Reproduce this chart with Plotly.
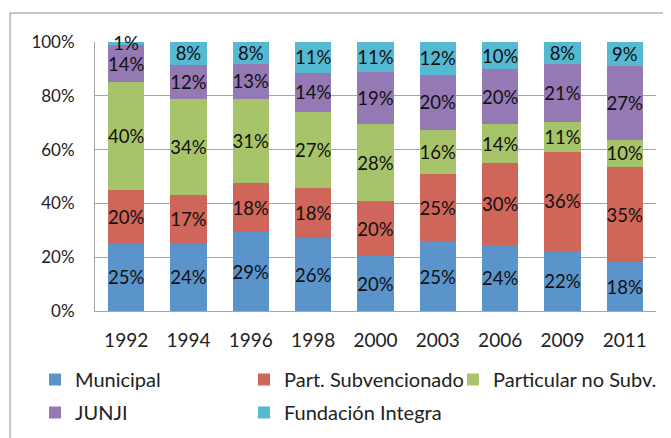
import plotly.graph_objects as go

years = ['1992', '1994', '1996', '1998', '2000', '2003', '2006', '2009', '2011']
municipal = [25, 24, 29, 26, 20, 25, 24, 22, 18]
part_subvencionado = [20, 17, 18, 18, 20, 25, 30, 36, 35]
particular_no_subv = [40, 34, 31, 27, 28, 16, 14, 11, 10]
junji = [14, 12, 13, 14, 19, 20, 20, 21, 27]
fundacion_integra = [1, 8, 8, 11, 11, 12, 10, 8, 9]
y_ticks = [0, 20, 40, 60, 80, 100]
y_tick_labels = ['0%', '20%', '40%', '60%', '80%', '100%']

# the page puts the figure 8px in from the window corner
OFF = 8
W, H = 671, 438
ML, MR, MT, MB = 87, 23, 34, 135
PW, PH = W - ML - MR, H - MT - MB


def px_x(px):
    return (px - OFF - ML) / PW


def px_y(py):
    return (H - MB - (py - OFF)) / PH


series = [
    ('Municipal', municipal, '#5b93cb', 'legend'),
    ('Part. Subvencionado', part_subvencionado, '#cf6659', 'legend2'),
    ('Particular no Subv.', particular_no_subv, '#a8c46a', 'legend3'),
    ('JUNJI', junji, '#9479b4', 'legend'),
    ('Fundación Integra', fundacion_integra, '#55b9d1', 'legend2'),
]

fig = go.Figure()
for name, vals, color, leg in series:
    fig.add_trace(go.Bar(
        x=years,
        y=vals,
        name=name,
        legend=leg,
        legendgroup=name,
        marker=dict(color=color, line=dict(width=0)),
        text=['{}%'.format(v) for v in vals],
        textposition='inside',
        insidetextanchor='middle',
        textangle=0,
        cliponaxis=False,
        textfont=dict(color='#111111', size=18.5),
    ))

legend_style = dict(
    orientation='v',
    xanchor='left',
    yanchor='top',
    y=px_y(360),
    traceorder='grouped',
    tracegroupgap=4,
    font=dict(size=20, color='#222222'),
    bgcolor='rgba(0,0,0,0)',
)

fig.update_layout(
    width=W,
    height=H,
    margin=dict(l=ML, r=MR, t=MT, b=MB, autoexpand=False),
    barmode='stack',
    barnorm='percent',
    bargap=0.42,
    paper_bgcolor='white',
    plot_bgcolor='white',
    font=dict(family='Lato, sans-serif', color='#222222'),
    uniformtext=dict(minsize=18.5, mode='show'),
    legend=dict(legend_style, x=px_x(35)),
    legend2=dict(legend_style, x=px_x(244)),
    legend3=dict(legend_style, x=px_x(453)),
    xaxis=dict(
        type='category',
        showgrid=False,
        showline=True,
        linecolor='#a6a6a6',
        linewidth=1,
        ticks='',
        ticklabelstandoff=12,
        tickfont=dict(size=19),
    ),
    yaxis=dict(
        range=[0, 100.001],
        tickmode='array',
        tickvals=y_ticks,
        ticktext=y_tick_labels,
        showgrid=True,
        gridcolor='#a6a6a6',
        gridwidth=1,
        showline=True,
        linecolor='#a6a6a6',
        linewidth=1,
        zeroline=False,
        ticks='',
        ticklabelstandoff=16,
        tickfont=dict(size=17),
    ),
    shapes=[dict(
        type='rect', xref='paper', yref='paper',
        x0=px_x(10), x1=px_x(700), y0=px_y(470), y1=px_y(13),
        line=dict(color='#8c8c8c', width=1),
        layer='below',
    )],
)

fig.write_html('out.html')
